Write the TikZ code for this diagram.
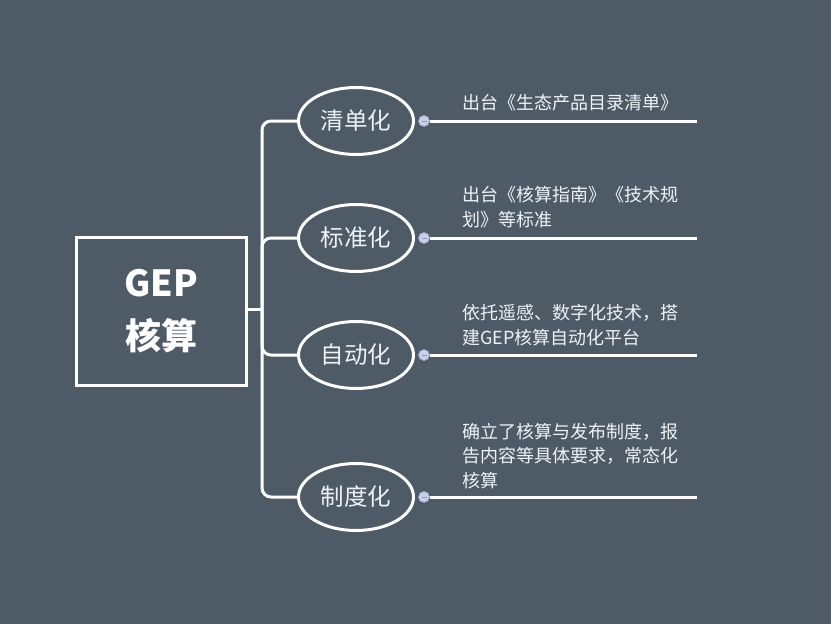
\documentclass[tikz,border=0pt]{standalone}
\usepackage{fontspec}
\setmainfont{Noto Sans CJK SC}
\usetikzlibrary{shapes.geometric}
\definecolor{bgc}{HTML}{4E5A66}
\definecolor{txc}{HTML}{EEF2F7}
\definecolor{mkfill}{HTML}{C9D1E6}
\definecolor{mkline}{HTML}{8C99BE}
\begin{document}
\begin{tikzpicture}[x=1pt,y=-1pt,
  conn/.style={draw=white,line width=3pt},
  rootbox/.style={draw=white,line width=3pt,minimum width=170pt,minimum height=148pt,inner sep=0pt,
    align=center,text=white,font=\fontsize{36}{53}\selectfont\bfseries},
  topic/.style={ellipse,draw=white,line width=3pt,minimum width=115pt,minimum height=67pt,inner sep=0pt,
    text=txc,font=\fontsize{23.5}{26}\selectfont},
  marker/.style={circle,fill=mkfill,draw=mkline,line width=0.6pt,minimum size=11pt,inner sep=0pt,
    path picture={\draw[mkline,line width=1pt] ([xshift=-2.5pt]path picture bounding box.center) -- ([xshift=2.5pt]path picture bounding box.center);}},
  note/.style={anchor=south west,inner sep=0pt,align=left,text=txc,font=\fontsize{18}{24.5}\selectfont}
]
\useasboundingbox (0,0) rectangle (831,624);
\fill[bgc] (0,0) rectangle (831,624);

\node[rootbox] (root) at (161.5,311) {GEP\\核算};
\coordinate (hub) at (262,309.5);

\node[topic] (e1) at (356,121) {清单化};
\node[topic] (e2) at (356,238) {标准化};
\node[topic] (e3) at (356,355) {自动化};
\node[topic] (e4) at (356,497) {制度化};

\draw[conn] (root.east|-hub) -- (hub);
\foreach \e in {e1,e2,e3,e4}{
  \draw[conn,rounded corners=9pt] (hub) |- (\e.west);
}

\node[marker] (m1) at (424,121) {};
\node[marker] (m2) at (424,238) {};
\node[marker] (m3) at (424,355) {};
\node[marker] (m4) at (424,497) {};
\coordinate (t1) at (697,121);
\coordinate (t2) at (697,238);
\coordinate (t3) at (697,355);
\coordinate (t4) at (697,497);
\draw[conn] (m1.east) -- (t1);
\draw[conn] (m2.east) -- (t2);
\draw[conn] (m3.east) -- (t3);
\draw[conn] (m4.east) -- (t4);
\node[marker] at (m1) {};
\node[marker] at (m2) {};
\node[marker] at (m3) {};
\node[marker] at (m4) {};

\node[note] (n1) at (462,111) {出台《生态产品目录清单》};
\node[note] (n2) at (462,228) {出台《核算指南》《技术规\\划》等标准};
\node[note] (n3) at (462,346) {依托遥感、数字化技术，搭\\建GEP核算自动化平台};
\node[note] (n4) at (462,489) {确立了核算与发布制度，报\\告内容等具体要求，常态化\\核算};
\end{tikzpicture}
\end{document}
